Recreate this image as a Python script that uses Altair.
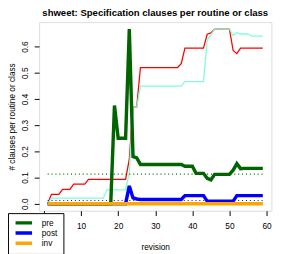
import altair as alt
import pandas as pd

revisions = list(range(1, 60))

spec_all = ([0.0] + [0.036] * 3 + [0.055] * 3 + [0.075] * 4 + [0.093] * 11 +
            [0.17, 0.37, 0.37] + [0.52] * 11 + [0.535] + [0.594] * 6 +
            [0.647, 0.652] + [0.667] * 5 + [0.585, 0.573] + [0.594] * 7)

spec_max = ([0.0] + [0.021] * 15 + [0.053] * 6 + [0.12, 0.37, 0.37] +
            [0.449] * 12 + [0.466] * 6 + [0.625, 0.645] + [0.667] * 5 +
            [0.642, 0.653] + [0.648] * 3 + [0.64] * 4)

pre = ([0.0] * 18 + [0.375, 0.25, 0.25, 0.25, 0.667, 0.18, 0.175] +
       [0.15] * 12 + [0.143] * 3 + [0.116] * 3 + [0.097, 0.091] +
       [0.112] * 5 + [0.128, 0.153, 0.134] + [0.135] * 6)

post = ([0.0] * 22 + [0.068, 0.022, 0.018] + [0.016] * 12 + [0.031] * 6 +
        [0.010] * 8 + [0.031] * 8)

inv = [0.0] * 59

pre_mean = 0.113
post_mean = 0.0123

series_names = ["pre", "post", "inv"]
series_colors = ["#006400", "#0000FF", "#FFA500"]

x_ticks = [0, 10, 20, 30, 40, 50, 60]
y_ticks = [0.0, 0.1, 0.2, 0.3, 0.4, 0.5, 0.6]

df_main = pd.concat([
    pd.DataFrame({"revision": revisions, "value": vals, "series": name})
    for name, vals in zip(series_names, [pre, post, inv])
], ignore_index=True)

df_extra = pd.DataFrame({"revision": revisions, "all": spec_all, "max": spec_max})
df_mean = pd.DataFrame({"revision": revisions,
                        "pre_mean": [pre_mean] * 59,
                        "post_mean": [post_mean] * 59})

xscale = alt.Scale(domain=[-1.32, 61.32], nice=False, zero=False)
yscale = alt.Scale(domain=[-0.02667, 0.69333], nice=False, zero=False)

xaxis = alt.Axis(values=x_ticks, title="revision",
                 grid=False, domain=False, tickSize=5, tickColor="black",
                 labelFontSize=8.5, labelColor="black", labelPadding=6,
                 labelOverlap=False,
                 titleFontSize=8.5, titleFontWeight="normal", titleColor="black",
                 titlePadding=13, labelFont="Liberation Sans", titleFont="Liberation Sans")
yaxis = alt.Axis(values=y_ticks, format=".1f",
                 title="# clauses per routine or class",
                 grid=False, domain=False, tickSize=5, tickColor="black",
                 labelFontSize=8.5, labelColor="black", labelAngle=270,
                 labelAlign="center", labelBaseline="bottom", labelPadding=5,
                 labelOverlap=False,
                 titleFontSize=8.5, titleFontWeight="normal", titleColor="black",
                 titlePadding=4, labelFont="Liberation Sans", titleFont="Liberation Sans")

x = alt.X("revision:Q", scale=xscale, axis=xaxis)

red = alt.Chart(df_extra).mark_line(color="red", strokeWidth=1.3).encode(
    x=x, y=alt.Y("all:Q", scale=yscale, axis=yaxis))
aqua = alt.Chart(df_extra).mark_line(color="#7FFFD4", strokeWidth=1.3).encode(
    x=x, y=alt.Y("max:Q", scale=yscale, axis=yaxis))
pre_dot = alt.Chart(df_mean).mark_line(color="#006400", strokeWidth=1.1,
                                       strokeDash=[1, 3]).encode(
    x=x, y=alt.Y("pre_mean:Q", scale=yscale, axis=yaxis))
post_dot = alt.Chart(df_mean).mark_line(color="#0000FF", strokeWidth=1.1,
                                        strokeDash=[1, 3]).encode(
    x=x, y=alt.Y("post_mean:Q", scale=yscale, axis=yaxis))

main = alt.Chart(df_main).mark_line(strokeWidth=3.5).encode(
    x=x,
    y=alt.Y("value:Q", scale=yscale, axis=yaxis),
    color=alt.Color("series:N",
                    scale=alt.Scale(domain=series_names, range=series_colors),
                    sort=series_names,
                    legend=alt.Legend(title=None, orient="none",
                                      legendX=-32, legendY=196.5,
                                      fillColor="white", strokeColor="black",
                                      padding=5.75, rowPadding=1.5,
                                      clipHeight=8.5,
                                      symbolType="stroke", symbolSize=289,
                                      symbolStrokeWidth=3.5, symbolOffset=0,
                                      labelFontSize=8.5, labelOffset=8,
                                      labelFont="Liberation Sans",
                                      labelColor="black", cornerRadius=0)),
    order=alt.Order("series_order:Q"),
).transform_calculate(
    series_order="indexof(['pre','post','inv'], datum.series)"
)

chart = alt.layer(red, aqua, pre_dot, post_dot, main).properties(
    width=239, height=194,
    autosize=alt.AutoSizeParams(type="none"),
    padding={"left": 32, "top": 11, "right": 15, "bottom": 41},
    title=alt.TitleParams("shweet: Specification clauses per routine or class",
                          fontSize=9.8, fontWeight="bold", font="Liberation Sans",
                          anchor="middle", color="black", offset=4),
).configure_view(stroke="#444", strokeWidth=1).configure_axis(
    labelOverlap=False
).configure(background="white")

chart.save("out.html", embed_options={"renderer": "svg", "actions": False})
